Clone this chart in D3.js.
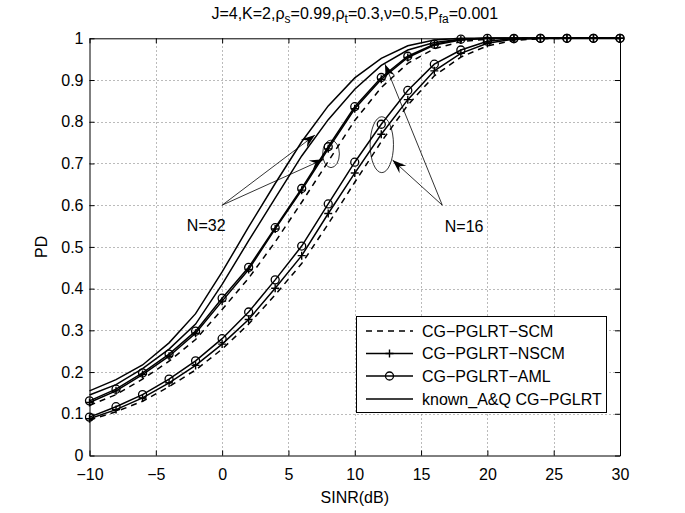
<!DOCTYPE html>
<html>
<head>
<meta charset="utf-8">
<script src="https://cdn.jsdelivr.net/npm/d3@7"></script>
<style>
  html, body { margin: 0; padding: 0; background: #fff; }
  svg { display: block; font-family: "Liberation Sans", Arial, sans-serif; }
  .grid line { stroke: #777; stroke-dasharray: 1,3; stroke-width: 1; }
  .axis path, .axis line { stroke: #000; }
  .axis text { font-size: 16px; fill: #000; }
</style>
</head>
<body>
<div id="chart"></div>
<script>
// SINR values (dB) where every curve was sampled
const sinr = [-10, -8, -6, -4, -2, 0, 2, 4, 6, 8, 10, 12, 14, 16, 18, 20, 22, 24, 26, 28, 30];

// N = 32
const scm32   = [0.120, 0.146, 0.183, 0.226, 0.278, 0.350, 0.425, 0.512, 0.607, 0.705, 0.803, 0.882, 0.940, 0.975, 0.992, 0.998, 1, 1, 1, 1, 1];
const nscm32  = [0.127, 0.155, 0.194, 0.238, 0.293, 0.370, 0.446, 0.543, 0.636, 0.735, 0.831, 0.902, 0.954, 0.984, 0.996, 1, 1, 1, 1, 1, 1];
const aml32   = [0.131, 0.159, 0.198, 0.243, 0.298, 0.377, 0.451, 0.546, 0.640, 0.740, 0.836, 0.906, 0.957, 0.986, 0.998, 1, 1, 1, 1, 1, 1];
// N = 16
const scm16   = [0.085, 0.105, 0.130, 0.165, 0.205, 0.255, 0.315, 0.385, 0.460, 0.555, 0.655, 0.752, 0.840, 0.910, 0.955, 0.982, 0.995, 0.999, 1, 1, 1];
const nscm16  = [0.088, 0.110, 0.138, 0.174, 0.216, 0.267, 0.326, 0.401, 0.479, 0.580, 0.677, 0.770, 0.853, 0.922, 0.964, 0.988, 0.998, 1, 1, 1, 1];
const aml16   = [0.092, 0.117, 0.146, 0.183, 0.227, 0.280, 0.344, 0.421, 0.502, 0.603, 0.703, 0.794, 0.875, 0.938, 0.972, 0.993, 0.999, 1, 1, 1, 1];
// known A&Q curves (two plain lines)
const knownA  = [0.155, 0.182, 0.217, 0.270, 0.340, 0.440, 0.548, 0.652, 0.752, 0.838, 0.905, 0.952, 0.982, 0.996, 1, 1, 1, 1, 1, 1, 1];
const knownB  = [0.145, 0.170, 0.208, 0.255, 0.315, 0.410, 0.515, 0.617, 0.718, 0.805, 0.878, 0.935, 0.972, 0.990, 0.998, 1, 1, 1, 1, 1, 1];

const xTicks = [-10, -5, 0, 5, 10, 15, 20, 25, 30];
const yTicks = [0, 0.1, 0.2, 0.3, 0.4, 0.5, 0.6, 0.7, 0.8, 0.9, 1];
const legendLabels = ['CG\u2212PGLRT\u2212SCM', 'CG\u2212PGLRT\u2212NSCM', 'CG\u2212PGLRT\u2212AML', 'known_A&Q CG\u2212PGLRT'];

// annotation anchors, in data units
const labelN32 = { text: 'N=32', x: -1.2, y: 0.552, from: [0, 0.6], to: [[7.0, 0.768], [7.65, 0.71]] };
const labelN16 = { text: 'N=16', x: 18.25, y: 0.55, from: [16.6, 0.6], to: [[12.85, 0.708], [12.28, 0.938]] };
const ellipses = [
  { cx: 8.21, cy: 0.723, rx: 0.63, ry: 0.033 },
  { cx: 12.04, cy: 0.745, rx: 0.88, ry: 0.067 }
];

const width = 685, height = 513;
const margin = { left: 89.5, right: 65, top: 38.3, bottom: 57.5 };

const svg = d3.select('#chart').append('svg')
  .attr('width', width)
  .attr('height', height);

const x = d3.scaleLinear().domain([-10, 30]).range([margin.left, width - margin.right]);
const y = d3.scaleLinear().domain([0, 1]).range([height - margin.bottom, margin.top]);

const fmt = d => String(d).replace('-', '\u2212');

// grid
const grid = svg.append('g').attr('class', 'grid');
grid.selectAll('line.gx')
  .data(xTicks.slice(1, -1))
  .enter().append('line')
    .attr('class', 'gx')
    .attr('x1', d => Math.round(x(d)) + 0.5).attr('x2', d => Math.round(x(d)) + 0.5)
    .attr('y1', y(0)).attr('y2', y(1));
grid.selectAll('line.gy')
  .data(yTicks.slice(1, -1))
  .enter().append('line')
    .attr('class', 'gy')
    .attr('x1', x(-10)).attr('x2', x(30))
    .attr('y1', d => Math.round(y(d)) + 0.5).attr('y2', d => Math.round(y(d)) + 0.5);

// axes, ticks pointing inward
svg.append('g').attr('class', 'axis')
  .attr('transform', `translate(0,${y(0)})`)
  .call(d3.axisBottom(x).tickValues(xTicks).tickFormat(fmt).tickSizeInner(-5).tickSizeOuter(0).tickPadding(13));
svg.append('g').attr('class', 'axis')
  .attr('transform', `translate(0,${y(1)})`)
  .call(d3.axisTop(x).tickValues(xTicks).tickFormat('').tickSizeInner(-5).tickSizeOuter(0));
svg.append('g').attr('class', 'axis')
  .attr('transform', `translate(${x(-10)},0)`)
  .call(d3.axisLeft(y).tickValues(yTicks).tickFormat(d3.format('~g')).tickSizeInner(-5).tickSizeOuter(0).tickPadding(6));
svg.append('g').attr('class', 'axis')
  .attr('transform', `translate(${x(30)},0)`)
  .call(d3.axisRight(y).tickValues(yTicks).tickFormat('').tickSizeInner(-5).tickSizeOuter(0));

// curves
const line = d3.line().x((d, i) => x(sinr[i])).y(d => y(d));
const series = [
  { values: knownA, dash: null,  marker: null },
  { values: knownB, dash: null,  marker: null },
  { values: scm32,  dash: '6,5', marker: null },
  { values: scm16,  dash: '6,5', marker: null },
  { values: nscm32, dash: null,  marker: 'plus' },
  { values: nscm16, dash: null,  marker: 'plus' },
  { values: aml32,  dash: null,  marker: 'circle' },
  { values: aml16,  dash: null,  marker: 'circle' }
];

const plot = svg.append('g').attr('class', 'plot');
plot.selectAll('path.curve')
  .data(series)
  .enter().append('path')
    .attr('class', 'curve')
    .attr('d', d => line(d.values))
    .attr('fill', 'none')
    .attr('stroke', '#000')
    .attr('stroke-width', 1.5)
    .attr('stroke-dasharray', d => d.dash);

function drawMarker(g, kind, px, py) {
  if (kind === 'circle') {
    g.append('circle').attr('cx', px).attr('cy', py).attr('r', 4)
      .attr('fill', 'none').attr('stroke', '#000').attr('stroke-width', 1.3);
  } else if (kind === 'plus') {
    g.append('path').attr('d', `M${px - 4},${py}H${px + 4}M${px},${py - 4}V${py + 4}`)
      .attr('stroke', '#000').attr('stroke-width', 1.4);
  }
}

series.filter(s => s.marker).forEach(s => {
  s.values.forEach((v, i) => drawMarker(plot, s.marker, x(sinr[i]), y(v)));
});

// annotations
const ann = svg.append('g').attr('class', 'annotations');
ellipses.forEach(e => {
  ann.append('ellipse')
    .attr('cx', x(e.cx)).attr('cy', y(e.cy))
    .attr('rx', x(e.cx + e.rx) - x(e.cx))
    .attr('ry', y(e.cy - e.ry) - y(e.cy))
    .attr('fill', 'none').attr('stroke', '#000').attr('stroke-width', 0.8);
});

function arrow(from, to) {
  const x0 = x(from[0]), y0 = y(from[1]), x1 = x(to[0]), y1 = y(to[1]);
  ann.append('line').attr('x1', x0).attr('y1', y0).attr('x2', x1).attr('y2', y1)
    .attr('stroke', '#000').attr('stroke-width', 0.8);
  const a = Math.atan2(y1 - y0, x1 - x0);
  const len = 14, half = 5, notch = 9;
  const ux = Math.cos(a), uy = Math.sin(a);
  const bx = x1 - ux * len, by = y1 - uy * len;
  const pts = [
    [x1, y1],
    [bx - uy * half, by + ux * half],
    [x1 - ux * notch, y1 - uy * notch],
    [bx + uy * half, by - ux * half]
  ];
  ann.append('path').attr('d', 'M' + pts.join('L') + 'Z').attr('fill', '#000');
}

[labelN32, labelN16].forEach(l => {
  l.to.forEach(t => arrow(l.from, t));
  ann.append('text')
    .attr('x', x(l.x)).attr('y', y(l.y))
    .attr('dy', '0.35em')
    .attr('text-anchor', 'middle')
    .attr('font-size', 16)
    .text(l.text);
});

// legend
const legend = svg.append('g').attr('class', 'legend');
legend.append('rect')
  .attr('x', 356.5).attr('y', 316.5).attr('width', 250).attr('height', 96)
  .attr('fill', '#fff').attr('stroke', '#000').attr('stroke-width', 1);
const legendKinds = [
  { dash: '6,5', marker: null },
  { dash: null, marker: 'plus' },
  { dash: null, marker: 'circle' },
  { dash: null, marker: null }
];
const legendRows = [331, 353.5, 376, 399];
legendLabels.forEach((label, i) => {
  const ly = legendRows[i];
  legend.append('line')
    .attr('x1', 366).attr('x2', 413).attr('y1', ly).attr('y2', ly)
    .attr('stroke', '#000').attr('stroke-width', 1.5)
    .attr('stroke-dasharray', legendKinds[i].dash);
  drawMarker(legend, legendKinds[i].marker, 389.5, ly);
  legend.append('text')
    .attr('x', 422).attr('y', ly).attr('dy', '0.35em')
    .attr('font-size', 16)
    .text(label);
});

// title and axis labels
const title = svg.append('text')
  .attr('x', (x(-10) + x(30)) / 2).attr('y', 19)
  .attr('text-anchor', 'middle')
  .attr('font-size', 16);
[['J=4,K=2,\u03c1', false], ['s', true], ['=0.99,\u03c1', false], ['t', true],
 ['=0.3,\u03bd=0.5,P', false], ['fa', true], ['=0.001', false]].forEach(([t, sub]) => {
  const ts = title.append('tspan').text(t);
  if (sub) ts.attr('font-size', 12).attr('dy', 4);
  else ts.attr('dy', title.selectAll('tspan').size() > 1 ? -4 : 0);
});

svg.append('text')
  .attr('x', (x(-10) + x(30)) / 2).attr('y', 503)
  .attr('text-anchor', 'middle')
  .attr('font-size', 16)
  .text('SINR(dB)');

svg.append('text')
  .attr('transform', `translate(47,${(y(0) + y(1)) / 2}) rotate(-90)`)
  .attr('text-anchor', 'middle')
  .attr('font-size', 16)
  .text('PD');
</script>
</body>
</html>
